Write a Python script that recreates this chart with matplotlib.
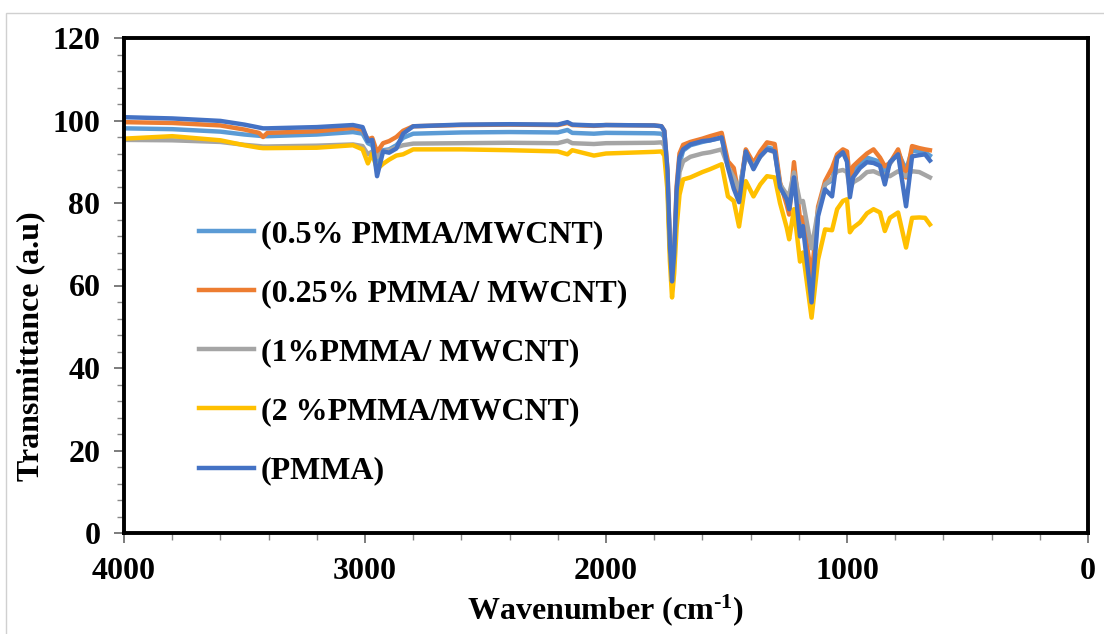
import matplotlib
matplotlib.use("Agg")
import matplotlib.pyplot as plt
from matplotlib.ticker import MultipleLocator
from matplotlib.patches import Rectangle

plt.rcParams['font.family'] = ['Liberation Serif', 'DejaVu Serif']
plt.rcParams['font.weight'] = 'bold'
plt.rcParams['mathtext.fontset'] = 'custom'
plt.rcParams['mathtext.rm'] = 'Liberation Serif:bold'
plt.rcParams['mathtext.it'] = 'Liberation Serif:bold'
plt.rcParams['mathtext.bf'] = 'Liberation Serif:bold'

# wavenumber grid (cm-1)
wavenumber = [4000, 3800, 3600, 3500, 3440, 3423, 3405, 3200, 3050, 3010,
              2988, 2970, 2950, 2925, 2900, 2870, 2842, 2800, 2600, 2400,
              2200, 2160, 2140, 2050, 2000, 1800, 1770, 1758, 1745, 1735,
              1726, 1717, 1707, 1695, 1680, 1650, 1600, 1568, 1520, 1494,
              1470, 1448, 1420, 1388, 1360, 1332, 1300, 1278, 1250, 1240,
              1220, 1195, 1183, 1147, 1120, 1091, 1062, 1041, 1017, 1000,
              988, 975, 946, 917, 890, 863, 843, 822, 788, 755,
              730, 700, 676, 656]

t_05 = [98.1, 97.9, 97.3, 96.6, 96.3, 96.2, 96.2, 96.6, 97.2, 96.8,
        94.5, 94.0, 89.9, 92.8, 93.0, 94.0, 95.8, 96.8, 97.1, 97.2,
        97.1, 97.7, 97.0, 96.8, 97.0, 96.9, 96.8, 96.0, 86.0, 69.0,
        60.5, 67.0, 81.0, 89.5, 92.7, 94.0, 94.8, 95.2, 95.8, 89.0,
        85.0, 81.6, 92.5, 88.8, 91.8, 93.5, 93.0, 84.5, 80.5, 79.0,
        87.4, 74.7, 75.5, 60.0, 77.7, 84.5, 85.5, 91.0, 92.3, 91.2,
        83.7, 87.5, 89.5, 91.0, 90.5, 90.0, 87.4, 89.5, 92.3, 88.0,
        92.7, 92.5, 92.3, 91.5]

t_025 = [99.6, 99.4, 98.8, 97.8, 97.0, 96.0, 97.0, 97.4, 98.2, 97.8,
         95.4, 95.8, 92.3, 94.5, 95.0, 96.0, 97.5, 98.6, 98.9, 99.0,
         98.9, 99.4, 98.9, 98.7, 98.9, 98.8, 98.6, 97.5, 88.0, 70.0,
         60.5, 68.0, 84.0, 92.0, 94.1, 94.8, 95.6, 96.2, 97.0, 90.1,
         88.5, 81.6, 93.0, 89.7, 92.5, 94.7, 94.3, 85.0, 79.5, 77.2,
         89.9, 76.0, 76.5, 62.0, 79.1, 85.3, 88.5, 91.8, 93.0, 92.5,
         85.3, 88.9, 90.5, 92.0, 93.0, 91.0, 88.9, 89.7, 93.0, 86.2,
         93.8, 93.3, 93.0, 92.8]

t_1 = [95.3, 95.2, 94.8, 94.1, 93.8, 93.7, 93.7, 93.9, 94.2, 93.8,
       91.8, 92.5, 91.2, 92.5, 92.8, 93.5, 94.0, 94.4, 94.5, 94.6,
       94.5, 95.1, 94.5, 94.3, 94.5, 94.6, 94.7, 94.0, 85.0, 69.0,
       61.0, 67.0, 79.0, 87.5, 90.1, 91.2, 92.0, 92.3, 93.0, 88.9,
       86.2, 83.3, 91.3, 88.9, 91.2, 93.0, 92.3, 84.5, 82.1, 82.0,
       87.4, 80.2, 80.5, 69.0, 78.2, 84.5, 86.0, 87.7, 88.0, 87.5,
       83.3, 85.0, 86.0, 87.5, 87.7, 87.0, 86.9, 86.5, 87.7, 86.5,
       87.7, 87.5, 86.8, 86.2]

t_2 = [95.6, 96.2, 95.2, 94.0, 93.4, 93.3, 93.3, 93.4, 94.0, 93.0,
       89.6, 92.0, 88.2, 89.5, 90.5, 91.5, 91.8, 93.0, 93.0, 92.8,
       92.5, 91.8, 92.8, 91.5, 92.0, 92.4, 92.5, 91.5, 83.0, 66.0,
       57.1, 63.0, 74.0, 82.0, 85.7, 86.2, 87.5, 88.2, 89.4, 81.6,
       80.5, 74.3, 85.3, 81.6, 84.5, 86.5, 86.2, 80.0, 74.0, 71.2,
       78.5, 65.8, 68.0, 52.2, 66.3, 73.6, 73.4, 78.5, 80.5, 80.9,
       72.9, 74.0, 75.3, 77.5, 78.5, 77.7, 73.2, 76.4, 77.7, 69.2,
       76.4, 76.5, 76.4, 74.8]

t_pmma = [100.8, 100.5, 99.9, 99.0, 98.3, 98.1, 98.1, 98.4, 98.9, 98.4,
          95.0, 95.3, 86.5, 92.5, 92.2, 93.2, 96.8, 98.6, 99.0, 99.1,
          99.0, 99.6, 99.0, 98.8, 98.9, 98.8, 98.6, 97.5, 88.0, 70.0,
          61.0, 68.0, 83.0, 91.0, 93.0, 94.2, 95.0, 95.2, 95.9, 88.6,
          83.5, 80.2, 92.5, 88.2, 91.3, 93.0, 92.5, 83.8, 80.9, 78.5,
          86.2, 71.9, 74.4, 55.9, 76.8, 83.3, 81.6, 91.0, 92.3, 90.0,
          81.4, 86.2, 88.5, 89.9, 89.7, 89.0, 84.5, 89.9, 91.8, 79.2,
          91.3, 91.6, 91.8, 90.3]

labels = ['(0.5% PMMA/MWCNT)', '(0.25% PMMA/ MWCNT)', '(1%PMMA/ MWCNT)',
          '(2 %PMMA/MWCNT)', '(PMMA)']
series = [t_05, t_025, t_1, t_2, t_pmma]
colors = ['#5B9BD5', '#ED7D31', '#A5A5A5', '#FFC000', '#4472C4']

fig = plt.figure(figsize=(11.04, 6.34), dpi=100)
fig.patches.append(Rectangle((6 / 1104, -0.01), 1.1, 1 - 13 / 634 + 0.01,
                             transform=fig.transFigure, fill=False,
                             edgecolor='#d0d0d0', linewidth=1))
ax = fig.add_axes([124 / 1104, 1 - 533 / 634, (1088 - 124) / 1104, (533 - 38) / 634])

for y, lab, c in zip(series, labels, colors):
    ax.plot(wavenumber, y, color=c, linewidth=3.2, label=lab, solid_joinstyle='round')

ax.set_xlim(4000, 0)
ax.set_ylim(0, 120)
ax.xaxis.set_major_locator(MultipleLocator(1000))
ax.xaxis.set_minor_locator(MultipleLocator(200))
ax.yaxis.set_major_locator(MultipleLocator(20))
ax.yaxis.set_minor_locator(MultipleLocator(4))
ax.tick_params(which='major', direction='out', length=7, width=1.2, color='#666666',
               labelsize=23)
ax.tick_params(which='minor', direction='out', length=5, width=1, color='#888888')
ax.tick_params(axis='y', which='major', pad=10)
ax.tick_params(axis='x', which='major', pad=10)
for s in ax.spines.values():
    s.set_linewidth(2.8)
    s.set_color('black')

ax.set_xlabel(r'Wavenumber (cm$^{\text{-1}}$)', fontsize=23, fontweight='bold', labelpad=5)
ax.set_ylabel('Transmittance (a.u)', fontsize=23, fontweight='bold')
ax.yaxis.set_label_coords(-0.082, 0.378)

ax.legend(loc='upper left', bbox_to_anchor=(0.065, 0.658), frameon=False,
          fontsize=23, handlelength=1.7, handletextpad=0.22, labelspacing=0.93,
          borderaxespad=0)

fig.savefig('out.png', dpi=100)
